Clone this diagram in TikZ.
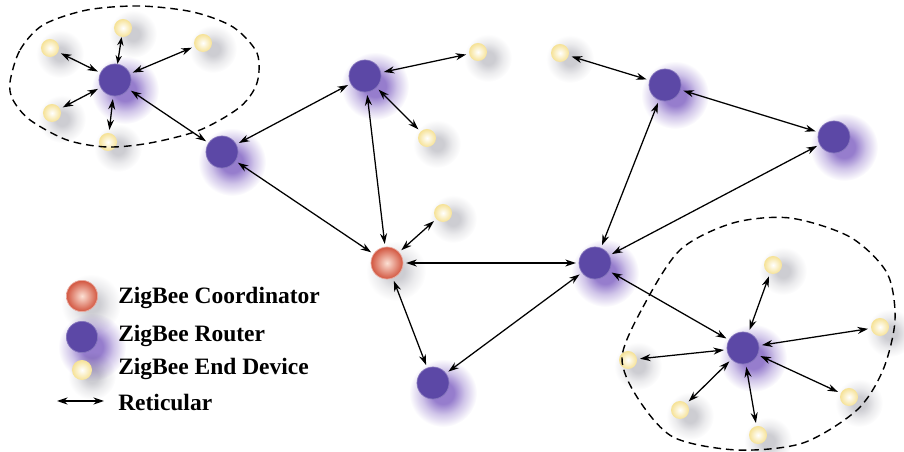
\documentclass[tikz,border=0pt]{standalone}
\usepackage{fontspec}
\setmainfont{Liberation Serif}
\usetikzlibrary{arrows.meta,positioning}

\definecolor{routerblue}{RGB}{92,72,166}
\definecolor{routerglow}{RGB}{150,125,205}
\definecolor{endyellow}{RGB}{246,226,150}
\definecolor{coordred}{RGB}{210,86,64}
\definecolor{coordlight}{RGB}{252,224,212}
\definecolor{shadowgray}{RGB}{205,205,210}
\pgfdeclareradialshading{routershade}{\pgfpointorigin}{color(0bp)=(routerglow); color(8bp)=(routerglow); color(16bp)=(routerglow!45!white); color(25bp)=(white); color(50bp)=(white)}
\pgfdeclareradialshading{grayshade}{\pgfpointorigin}{color(0bp)=(shadowgray); color(7bp)=(shadowgray); color(16bp)=(shadowgray!40!white); color(25bp)=(white); color(50bp)=(white)}
\pgfdeclarelayer{shadow}
\pgfsetlayers{shadow,main}

\begin{document}
\begin{tikzpicture}[x=0.025cm,y=-0.025cm,
  router/.style={circle,fill=routerblue,draw=routerblue!75!white,line width=0.5pt,minimum size=0.8cm,inner sep=0pt},
  enddev/.style={circle,inner color=white,outer color=endyellow,minimum size=0.45cm,inner sep=0pt},
  coord/.style={circle,inner color=coordlight,outer color=coordred,draw=coordred!50!white,line width=0.5pt,minimum size=0.8cm,inner sep=0pt},
  link/.style={{Stealth[length=7.5pt,width=5pt]}-{Stealth[length=7.5pt,width=5pt]},line width=0.9pt,shorten <=2pt,shorten >=2pt},
  zone/.style={line width=1pt,dash pattern=on 5.5pt off 3.5pt},
  legendtext/.style={anchor=west,font=\bfseries\fontsize{16.7}{18}\selectfont,inner sep=0pt}
]
\useasboundingbox (0,0) rectangle (904,452);

% Draw routers and coordinator
\node[router] (r1) at (115,80) {};
\node[router] (r2) at (222,152) {};
\node[router] (r3) at (365,76) {};
\node[router] (r4) at (433,383) {};
\node[router] (r5) at (595,263) {};
\node[router] (r6) at (665,85) {};
\node[router] (r7) at (834,137) {};
\node[router] (r8) at (743,348) {};
\node[coord] (c) at (387,263) {};

% Draw end devices
\node[enddev] (e1) at (50,48) {};
\node[enddev] (e2) at (123,28) {};
\node[enddev] (e3) at (203,43) {};
\node[enddev] (e4) at (52,113) {};
\node[enddev] (e5) at (108,142) {};
\node[enddev] (e6) at (478,52) {};
\node[enddev] (e7) at (427,138) {};
\node[enddev] (e8) at (443,213) {};
\node[enddev] (e9) at (560,53) {};
\node[enddev] (e10) at (773,265) {};
\node[enddev] (e11) at (880,327) {};
\node[enddev] (e12) at (849,397) {};
\node[enddev] (e13) at (758,435) {};
\node[enddev] (e14) at (680,410) {};
\node[enddev] (e15) at (628,360) {};

% Draw legend
\node[coord,minimum size=0.78cm] (lc) at (82,296) {};
\node[router,minimum size=0.78cm] (lr) at (82,337) {};
\node[enddev,minimum size=0.5cm] (le) at (82,370) {};
\coordinate (la) at (57,401);
\coordinate (lb) at (104,401);
\draw[link,shorten <=0pt,shorten >=0pt] (la) -- (lb);
\node[legendtext] (tc) at (118,298) {ZigBee Coordinator};
\node[legendtext] (tr) at (118,336) {ZigBee Router};
\node[legendtext] (te) at (118,369) {ZigBee End Device};
\node[legendtext] (ta) at (118,402) {Reticular};

% Draw shadows
\begin{pgfonlayer}{shadow}
\begin{scope}[blend mode=multiply]
\foreach \n in {r1,r2,r3,r4,r5,r6,r7,r8,lr}
  \shade[shading=routershade] ([shift={(10,10)}]\n.center) circle (34);
\foreach \n in {e1,e2,e3,e4,e5,e6,e7,e8,e9,e10,e11,e12,e13,e14,e15,le}
  \shade[shading=grayshade] ([shift={(10,6)}]\n.center) circle (24);
\foreach \n in {c,lc}
  \shade[shading=grayshade] ([shift={(9,8)}]\n.center) circle (30);
\end{scope}
\end{pgfonlayer}

% Draw dashed zones
\draw[zone] plot[smooth cycle] coordinates {(10,82) (20,50) (43,25) (87,10) (140,6) (193,12) (233,27) (257,53)
  (257,83) (240,107) (200,130) (150,143) (107,147) (67,140) (30,120) (13,100)};
\draw[zone] plot[smooth cycle] coordinates {(622,357) (643,307) (680,250) (733,223) (790,218) (850,237) (887,273)
  (895,320) (883,370) (857,410) (803,443) (737,450) (673,437) (637,397)};

% Draw links
\foreach \e in {e1,e3,e4,e5}
  \draw[link] (r1) -- (\e);
\draw[link,shorten <=0pt,shorten >=0pt,{Stealth[length=6pt,width=4.5pt]}-{Stealth[length=6pt,width=4.5pt]}] (r1) -- (e2);
\foreach \e in {e10,e11,e12,e13,e14,e15}
  \draw[link] (r8) -- (\e);
\draw[link] (r1) -- (r2);
\draw[link] (r2) -- (r3);
\draw[link] (r2) -- (c);
\draw[link] (r3) -- (e6);
\draw[link] (r3) -- (e7);
\draw[link] (r3) -- (c);
\draw[link] (c) -- (e8);
\draw[link] (c) -- (r5);
\draw[link] (c) -- (r4);
\draw[link] (r4) -- (r5);
\draw[link] (r5) -- (r6);
\draw[link] (r5) -- (r7);
\draw[link] (r5) -- (r8);
\draw[link] (r6) -- (e9);
\draw[link] (r6) -- (r7);
\end{tikzpicture}
\end{document}
